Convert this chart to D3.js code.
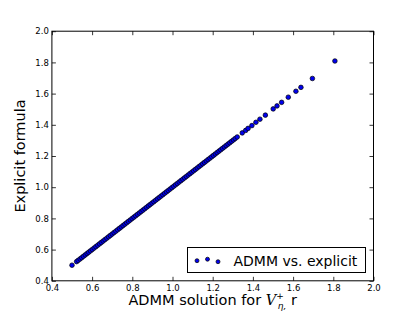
<!DOCTYPE html>
<html>
<head>
<meta charset="utf-8">
<script src="https://cdn.jsdelivr.net/npm/d3@7"></script>
<style>
  body { margin: 0; background: #fff; }
  svg { display: block; font-family: "DejaVu Sans", sans-serif; }
</style>
</head>
<body>
<svg width="415" height="312"></svg>
<script>
// values (y = explicit formula, x = ADMM solution)
var admm = [0.500,
  0.523, 0.531, 0.540, 0.548, 0.557, 0.566, 0.575, 0.583, 0.592,
  0.601, 0.610, 0.619, 0.628, 0.637, 0.646, 0.655, 0.664, 0.673, 0.682,
  0.691, 0.700, 0.709, 0.718, 0.727, 0.736, 0.745, 0.754, 0.763, 0.772,
  0.781, 0.790, 0.799, 0.808, 0.817, 0.826, 0.835, 0.844, 0.853, 0.862,
  0.871, 0.880, 0.889, 0.898, 0.907, 0.916, 0.925, 0.934, 0.943, 0.952,
  0.961, 0.970, 0.979, 0.988, 0.997, 1.006, 1.015, 1.024, 1.033, 1.042,
  1.051, 1.060, 1.069, 1.078, 1.087, 1.096, 1.105, 1.114, 1.123, 1.132,
  1.141, 1.150, 1.159, 1.168, 1.177, 1.186, 1.195, 1.204, 1.213, 1.222,
  1.231, 1.240, 1.249, 1.258, 1.267, 1.276, 1.285, 1.294, 1.303, 1.312, 1.322,
  1.347, 1.364, 1.376, 1.395, 1.415, 1.435, 1.462, 1.501, 1.520, 1.543,
  1.576, 1.614, 1.639, 1.696, 1.808];
var explicit = [0.500,
  0.523, 0.531, 0.540, 0.548, 0.557, 0.566, 0.575, 0.583, 0.592,
  0.601, 0.610, 0.619, 0.628, 0.637, 0.646, 0.655, 0.664, 0.673, 0.682,
  0.691, 0.700, 0.709, 0.718, 0.727, 0.736, 0.745, 0.754, 0.763, 0.772,
  0.781, 0.790, 0.799, 0.808, 0.817, 0.826, 0.835, 0.844, 0.853, 0.862,
  0.871, 0.880, 0.889, 0.898, 0.907, 0.916, 0.925, 0.934, 0.943, 0.952,
  0.961, 0.970, 0.979, 0.988, 0.997, 1.006, 1.015, 1.024, 1.033, 1.042,
  1.051, 1.060, 1.069, 1.078, 1.087, 1.096, 1.105, 1.114, 1.123, 1.132,
  1.141, 1.150, 1.159, 1.168, 1.177, 1.186, 1.195, 1.204, 1.213, 1.222,
  1.231, 1.240, 1.249, 1.258, 1.267, 1.276, 1.285, 1.294, 1.303, 1.312, 1.322,
  1.348, 1.364, 1.377, 1.395, 1.416, 1.436, 1.462, 1.502, 1.521, 1.544,
  1.577, 1.615, 1.640, 1.697, 1.809];
var xTicks = [0.4, 0.6, 0.8, 1.0, 1.2, 1.4, 1.6, 1.8, 2.0];
var yTicks = [0.4, 0.6, 0.8, 1.0, 1.2, 1.4, 1.6, 1.8, 2.0];
var legendLabel = "ADMM vs. explicit";

var svg = d3.select("svg");
var pLeft = 51.9, pRight = 373.5, pTop = 31.2, pBottom = 280.8;

var x = d3.scaleLinear().domain([0.4, 2.0]).range([pLeft, pRight]);
var y = d3.scaleLinear().domain([0.4, 2.0]).range([pBottom, pTop]);
var fmt = d3.format(".1f");

function styleAxis(g) {
  g.select(".domain").remove();
  g.selectAll(".tick line").attr("stroke", "#000").attr("stroke-width", 0.8);
  g.selectAll(".tick text").attr("fill", "#000").attr("font-size", "8.5px")
    .attr("font-family", "DejaVu Sans, sans-serif");
}

// inward ticks on all four sides
svg.append("g").attr("transform", "translate(0," + pBottom + ")")
  .call(d3.axisBottom(x).tickValues(xTicks).tickFormat(fmt).tickSizeInner(-4).tickPadding(4))
  .call(styleAxis);
svg.append("g").attr("transform", "translate(0," + pTop + ")")
  .call(d3.axisTop(x).tickValues(xTicks).tickFormat("").tickSizeInner(-4))
  .call(styleAxis);
svg.append("g").attr("transform", "translate(" + pLeft + ",0)")
  .call(d3.axisLeft(y).tickValues(yTicks).tickFormat(fmt).tickSizeInner(-4).tickPadding(3))
  .call(styleAxis);
svg.append("g").attr("transform", "translate(" + pRight + ",0)")
  .call(d3.axisRight(y).tickValues(yTicks).tickFormat("").tickSizeInner(-4))
  .call(styleAxis);

svg.append("rect")
  .attr("x", pLeft).attr("y", pTop)
  .attr("width", pRight - pLeft).attr("height", pBottom - pTop)
  .attr("fill", "none").attr("stroke", "#000").attr("stroke-width", 1);

svg.append("g").selectAll("circle")
  .data(admm)
  .enter().append("circle")
  .attr("cx", function(d) { return x(d); })
  .attr("cy", function(d, i) { return y(explicit[i]); })
  .attr("r", 2.3)
  .attr("fill", "#0000ee")
  .attr("stroke", "#000")
  .attr("stroke-width", 0.7);

// legend
var lg = svg.append("g");
lg.append("rect")
  .attr("x", 187.5).attr("y", 247.5).attr("width", 178).attr("height", 25)
  .attr("fill", "#fff").attr("stroke", "#000").attr("stroke-width", 1);
lg.selectAll("circle")
  .data([[197, 260.7], [207.5, 259.2], [218, 261.7]])
  .enter().append("circle")
  .attr("cx", function(d) { return d[0]; })
  .attr("cy", function(d) { return d[1]; })
  .attr("r", 2)
  .attr("fill", "#0000ee").attr("stroke", "#000").attr("stroke-width", 0.7);
lg.append("text")
  .attr("x", 233.5).attr("y", 266)
  .attr("font-size", "14px")
  .text(legendLabel);

// axis labels
var xl = svg.append("text")
  .attr("x", (pLeft + pRight) / 2).attr("y", 305)
  .attr("text-anchor", "middle")
  .attr("font-size", "14.5px");
xl.append("tspan").text("ADMM solution for ");
xl.append("tspan").attr("font-family", "DejaVu Serif, serif").attr("font-style", "italic").text("V");
xl.append("tspan").attr("font-size", "9px").attr("dy", -6).text("+");
xl.append("tspan").attr("font-size", "9px").attr("font-style", "italic").attr("dx", -6).attr("dy", 10).text("\u03B7,");
xl.append("tspan").attr("dy", -4).text(" r");

svg.append("text")
  .attr("transform", "translate(25," + (pTop + pBottom) / 2 + ") rotate(-90)")
  .attr("text-anchor", "middle")
  .attr("font-size", "14.5px")
  .text("Explicit formula");
</script>
</body>
</html>
